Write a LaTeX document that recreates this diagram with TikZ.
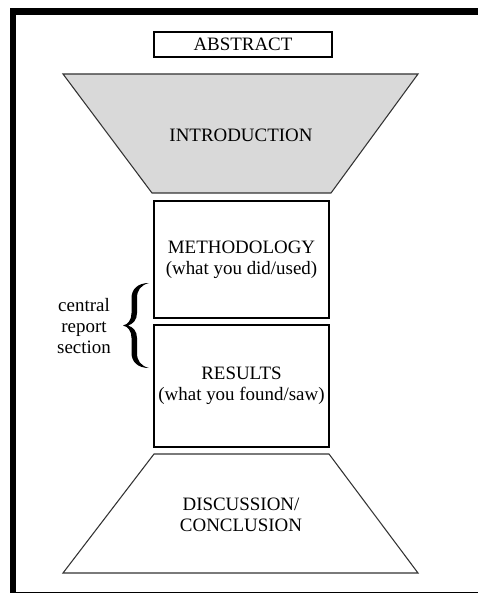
\documentclass[tikz,border=0pt]{standalone}
\usepackage{fontspec}
\setmainfont{Liberation Serif}
\begin{document}
\begin{tikzpicture}[x=0.75pt,y=-0.75pt,
  lbl/.style={inner sep=0pt, align=center, font=\fontsize{14.2}{16}\selectfont},
  boxnode/.style={lbl, draw=black, line width=0.9pt},
  trapline/.style={draw=black!80, line width=0.8pt, line join=miter},
  framefill/.style={fill=black}]
\useasboundingbox (0,0) rectangle (478,595);
% outer frame
\fill[framefill] (10,8) rectangle (478,15);
\fill[framefill] (10,8) rectangle (16,593);
\draw[line width=1.1pt] (10,592.5) -- (478,592.5);
% abstract
\node[boxnode, minimum width=133.5pt, minimum height=18.75pt] (abstract) at (243,44.5) {ABSTRACT};
% introduction trapezoid
\coordinate (i1) at (63,74);
\coordinate (i2) at (418,74);
\coordinate (i3) at (331,193);
\coordinate (i4) at (152,193);
\draw[trapline, fill=black!15] (i1) -- (i2) -- (i3) -- (i4) -- cycle;
\node[lbl] (intro) at (241,135) {INTRODUCTION};
% methodology
\node[boxnode, minimum width=131.25pt, minimum height=87.75pt] (method) at (241.5,259.5) {METHODOLOGY\\(what you did/used)};
% results
\node[boxnode, minimum width=131.25pt, minimum height=91.5pt] (results) at (241.5,386) {RESULTS\\(what you found/saw)};
% discussion trapezoid
\coordinate (d1) at (154,454);
\coordinate (d2) at (329,454);
\coordinate (d3) at (418,573);
\coordinate (d4) at (63,573);
\draw[trapline] (d1) -- (d2) -- (d3) -- (d4) -- cycle;
\node[lbl] (disc) at (241,515) {DISCUSSION/\\CONCLUSION};
% brace
\fill[black] (149,283) .. controls (138,283) and (131.5,289) .. (131.5,298)
  -- (131.5,313) .. controls (131.5,320) and (128,324.5) .. (123,325.5)
  .. controls (128,326.5) and (131.5,331) .. (131.5,338)
  -- (131.5,353) .. controls (131.5,362) and (138,368) .. (149,368)
  .. controls (141,366) and (137,361) .. (137,353)
  -- (137,338) .. controls (137,331) and (133,327) .. (128,325.5)
  .. controls (133,324) and (137,320) .. (137,313)
  -- (137,298) .. controls (137,290) and (141,285) .. (149,283) -- cycle;
\node[lbl] (central) at (84,326) {central\\report\\section};
\end{tikzpicture}
\end{document}
